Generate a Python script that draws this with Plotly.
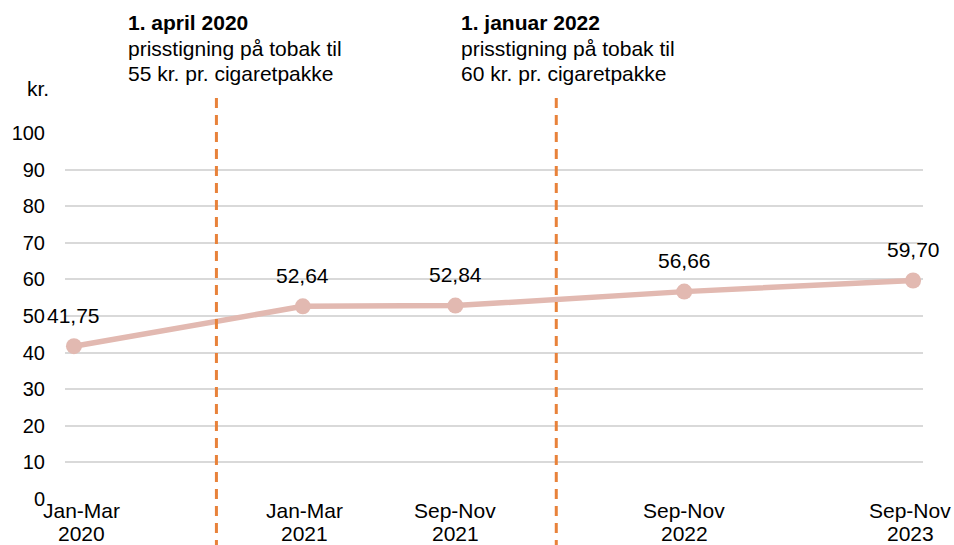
import plotly.graph_objects as go

# Data
cat_line1 = ["Jan-Mar", "Jan-Mar", "Sep-Nov", "Sep-Nov", "Sep-Nov"]
cat_line2 = ["2020", "2021", "2021", "2022", "2023"]
months = [0, 12, 20, 32, 44]          # months since Jan-Mar 2020 (position on time axis)
prices = [41.75, 52.64, 52.84, 56.66, 59.70]
price_labels = ["41,75", "52,64", "52,84", "56,66", "59,70"]
y_ticks = [0, 10, 20, 30, 40, 50, 60, 70, 80, 90, 100]
event_pos = [7.47, 25.29]
event_titles = ["1. april 2020", "1. januar 2022"]
event_line2 = ["prisstigning på tobak til", "prisstigning på tobak til"]
event_line3 = ["55 kr. pr. cigaretpakke", "60 kr. pr. cigaretpakke"]

FONT = "Liberation Sans, Arial, sans-serif"
LINE_COLOR = "#E2B9B1"
DASH_COLOR = "#E8823A"
TXT = 21

W, H = 954, 545
ML, MR, MT, MB = 62, 31, 133, 46
PH = H - MT - MB


def ypix(py):
    return (H - MB - py) / PH


fig = go.Figure()
fig.add_trace(go.Scatter(
    x=months, y=prices, mode="lines+markers",
    line=dict(color=LINE_COLOR, width=5.5),
    marker=dict(color=LINE_COLOR, size=16),
    hoverinfo="skip", showlegend=False, cliponaxis=False,
))

annotations = []
# value labels
for m, p, t in zip(months, prices, price_labels):
    annotations.append(dict(x=m, y=p, xref="x", yref="y", text=t, showarrow=False,
                            yshift=31, font=dict(size=TXT, color="#000"), xanchor="center", yanchor="middle"))
# category labels
xshift = [8, 2, 0, 0, -3]
for m, c1, c2, s in zip(months, cat_line1, cat_line2, xshift):
    annotations.append(dict(x=m, y=ypix(510), xref="x", yref="paper", text=c1, showarrow=False,
                            xshift=s, yanchor="middle", xanchor="center",
                            font=dict(size=TXT, color="#000")))
    annotations.append(dict(x=m, y=ypix(533), xref="x", yref="paper", text=c2, showarrow=False,
                            xshift=s, yanchor="middle", xanchor="center",
                            font=dict(size=TXT, color="#000")))
# event texts and lines
text_shift = [-90, -97]
for pos, xs, t1, t2, t3 in zip(event_pos, text_shift, event_titles, event_line2, event_line3):
    for ytxt, txt in [(22, "<b>" + t1 + "</b>"), (49, t2), (74, t3)]:
        annotations.append(dict(x=pos, y=ypix(ytxt), xref="x", yref="paper", text=txt,
                                showarrow=False, xanchor="left", yanchor="middle", xshift=xs,
                                font=dict(size=TXT, color="#000")))
    fig.add_shape(type="line", x0=pos, x1=pos, xref="x", yref="paper",
                  y0=ypix(98), y1=ypix(548),
                  line=dict(color=DASH_COLOR, width=3, dash="10px,7px"), layer="above")

annotations.append(dict(x=0, y=ypix(88), xref="paper", yref="paper", text="kr.", showarrow=False,
                        xanchor="right", yanchor="middle", xshift=-14, font=dict(size=TXT, color="#000")))

fig.update_layout(
    width=W, height=H,
    margin=dict(l=ML, r=MR, t=MT, b=MB),
    paper_bgcolor="white", plot_bgcolor="white",
    font=dict(family=FONT, size=20, color="#000"),
    annotations=annotations,
    xaxis=dict(range=[-0.47, 44.52], showgrid=False, zeroline=False, showticklabels=False,
               showline=False, fixedrange=True),
    yaxis=dict(range=[0, 100], tickvals=y_ticks, showgrid=True, gridcolor="#D9D9D9", gridwidth=1.5,
               zeroline=False, showline=False, ticklabelstandoff=19,
               tickfont=dict(size=20, color="#000"), fixedrange=True),
)

fig.write_html("out.html", config={"displayModeBar": False},
               post_script="document.body.style.margin='0';")
